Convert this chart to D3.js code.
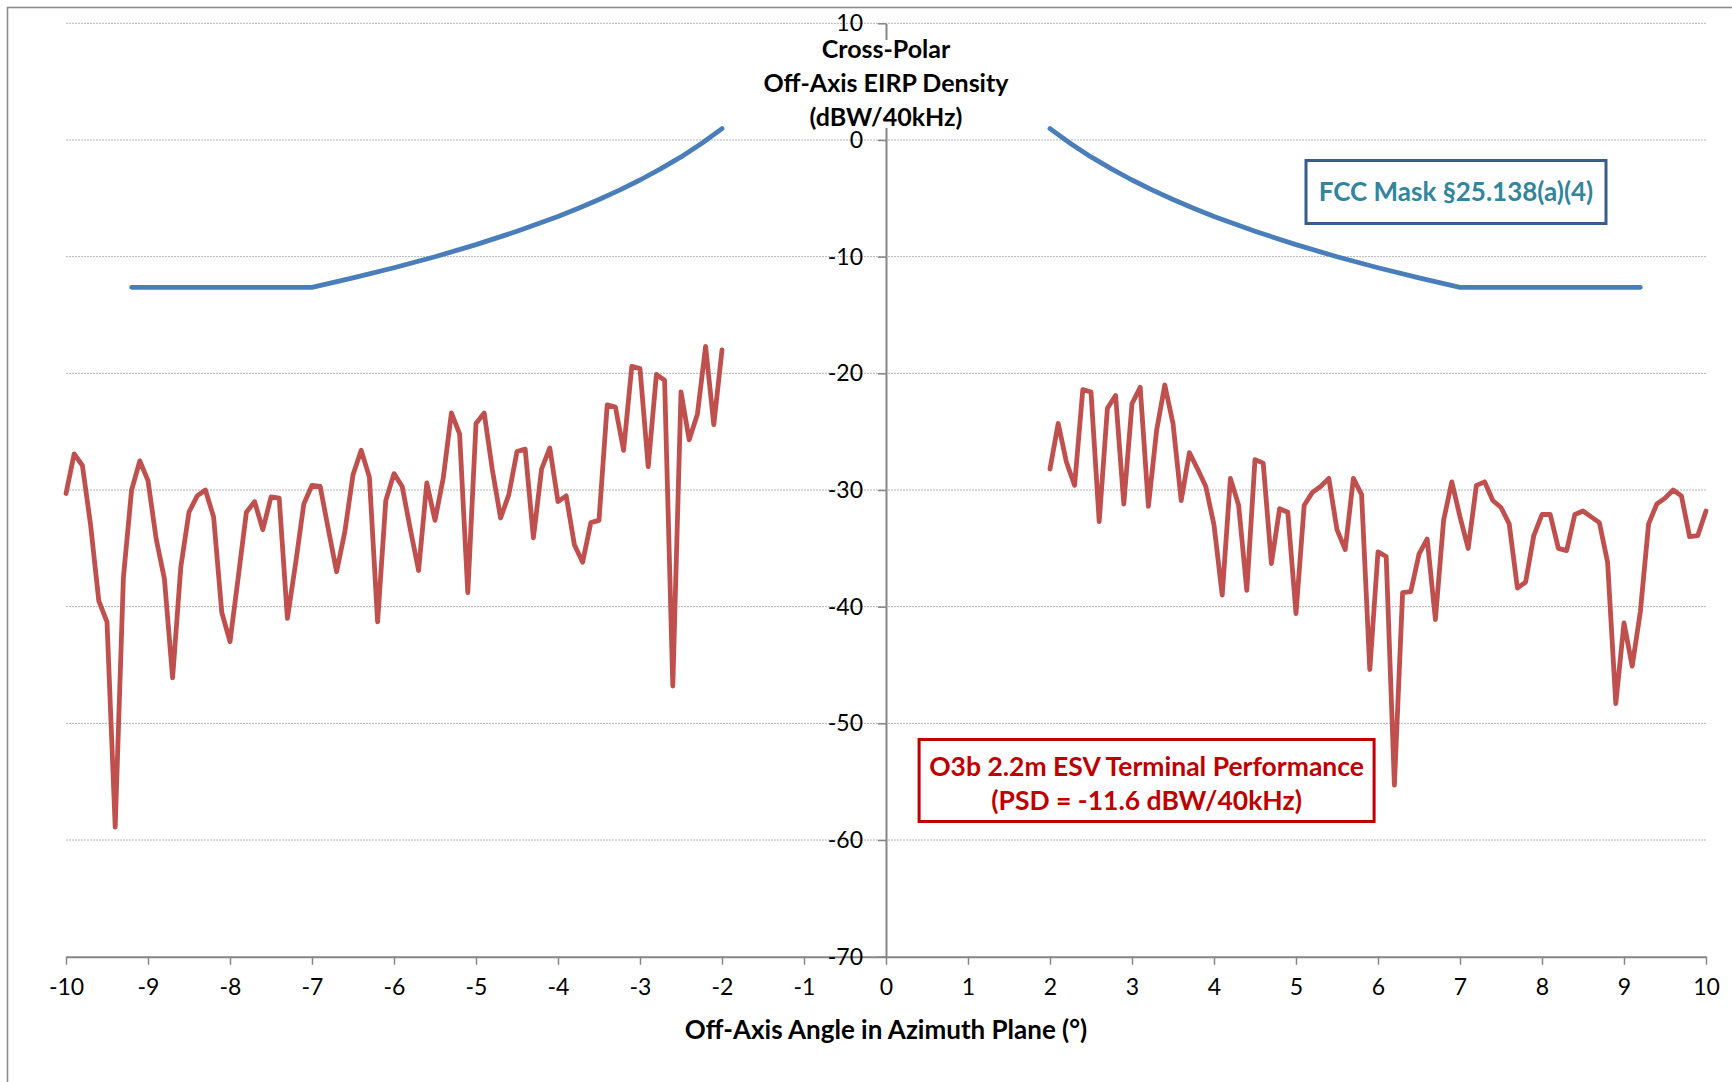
<!DOCTYPE html>
<html>
<head>
<meta charset="utf-8">
<script src="https://cdn.jsdelivr.net/npm/d3@7"></script>
<style>
  html, body { margin: 0; padding: 0; background: #fff; }
  svg { display: block; font-family: Lato, "Open Sans", sans-serif; }
</style>
</head>
<body>
<svg id="chart" width="1732" height="1082"></svg>
<script>
// Off-axis angle samples (degrees) for the measured terminal pattern
const leftAngles = [-10.0,-9.9,-9.8,-9.7,-9.6,-9.5,-9.4,-9.3,-9.2,-9.1,-9.0,-8.9,-8.8,-8.7,-8.6,-8.5,-8.4,-8.3,-8.2,-8.1,
  -8.0,-7.9,-7.8,-7.7,-7.6,-7.5,-7.4,-7.3,-7.2,-7.1,-7.0,-6.9,-6.8,-6.7,-6.6,-6.5,-6.4,-6.3,-6.2,-6.1,
  -6.0,-5.9,-5.8,-5.7,-5.6,-5.5,-5.4,-5.3,-5.2,-5.1,-5.0,-4.9,-4.8,-4.7,-4.6,-4.5,-4.4,-4.3,-4.2,-4.1,
  -4.0,-3.9,-3.8,-3.7,-3.6,-3.5,-3.4,-3.3,-3.2,-3.1,-3.0,-2.9,-2.8,-2.7,-2.6,-2.5,-2.4,-2.3,-2.2,-2.1,-2.0];
const leftEirp = [-30.3,-26.9,-27.9,-33.0,-39.5,-41.3,-58.9,-37.5,-30.0,-27.5,-29.2,-34.2,-37.6,-46.1,-36.6,-31.9,-30.5,-30.0,-32.3,-40.5,
  -43.0,-37.5,-31.9,-31.0,-33.4,-30.6,-30.7,-41.0,-36.3,-31.2,-29.6,-29.7,-33.4,-37.0,-33.6,-28.7,-26.6,-28.9,-41.3,-30.9,
  -28.6,-29.7,-33.4,-36.9,-29.4,-32.6,-29.0,-23.4,-25.2,-38.8,-24.3,-23.4,-28.3,-32.4,-30.4,-26.7,-26.5,-34.1,-28.2,-26.4,
  -31.0,-30.5,-34.7,-36.2,-32.8,-32.6,-22.7,-22.9,-26.6,-19.4,-19.6,-28.0,-20.1,-20.6,-46.8,-21.6,-25.7,-23.5,-17.7,-24.4,-18.0];

const rightAngles = [2.0,2.1,2.2,2.3,2.4,2.5,2.6,2.7,2.8,2.9,3.0,3.1,3.2,3.3,3.4,3.5,3.6,3.7,3.8,3.9,
  4.0,4.1,4.2,4.3,4.4,4.5,4.6,4.7,4.8,4.9,5.0,5.1,5.2,5.3,5.4,5.5,5.6,5.7,5.8,5.9,
  6.0,6.1,6.2,6.3,6.4,6.5,6.6,6.7,6.8,6.9,7.0,7.1,7.2,7.3,7.4,7.5,7.6,7.7,7.8,7.9,
  8.0,8.1,8.2,8.3,8.4,8.5,8.6,8.7,8.8,8.9,9.0,9.1,9.2,9.3,9.4,9.5,9.6,9.7,9.8,9.9,10.0];
const rightEirp = [-28.2,-24.3,-27.6,-29.6,-21.4,-21.6,-32.7,-23.0,-21.9,-31.2,-22.6,-21.2,-31.4,-24.9,-21.0,-24.3,-30.9,-26.8,-28.2,-29.7,
  -33.0,-39.0,-29.0,-31.3,-38.6,-27.4,-27.7,-36.3,-31.6,-31.9,-40.6,-31.3,-30.2,-29.7,-29.0,-33.4,-35.1,-29.0,-30.4,-45.4,
  -35.3,-35.7,-55.3,-38.8,-38.7,-35.5,-34.2,-41.1,-32.6,-29.3,-32.3,-35.0,-29.6,-29.3,-30.9,-31.5,-32.9,-38.4,-37.9,-33.9,
  -32.1,-32.1,-35.0,-35.2,-32.1,-31.8,-32.3,-32.8,-36.2,-48.3,-41.4,-45.1,-40.4,-32.9,-31.2,-30.7,-30.0,-30.5,-34.0,-33.9,-31.8];

// FCC §25.138(a)(4) cross-polar off-axis EIRP density envelope (symmetric in angle)
const maskAngles = [2.0, 2.25, 2.5, 2.75, 3.0, 3.25, 3.5, 3.75, 4.0, 4.5, 5.0, 5.5, 6.0, 6.5, 7.0, 9.2];
const maskEirp   = [0.97, -0.30, -1.45, -2.48, -3.43, -4.30, -5.10, -5.85, -6.55, -7.83, -8.97, -10.01, -10.95, -11.82, -12.63, -12.63];

// Axis ticks
const xTicks = [-10,-9,-8,-7,-6,-5,-4,-3,-2,-1,0,1,2,3,4,5,6,7,8,9,10];
const yTicks = [10,0,-10,-20,-30,-40,-50,-60,-70];

const svg = d3.select("#chart");
const axisColor = "#868686";
const red = "#C0504D";
const blue = "#4A7EBB";

const x = d3.scaleLinear().domain([-10, 10]).range([66, 1706]);
const y = d3.scaleLinear().domain([-70, 10]).range([956.7, 23.3]);

// outer chart frame
svg.append("rect")
  .attr("x", 7.5).attr("y", 7.5).attr("width", 1740).attr("height", 1090)
  .attr("fill", "none").attr("stroke", "#8c8c8c").attr("stroke-width", 1.6);

// horizontal gridlines
svg.append("g").selectAll("line")
  .data(yTicks.filter(d => d > -70))
  .join("line")
  .attr("x1", x(-10)).attr("x2", x(10))
  .attr("y1", d => y(d)).attr("y2", d => y(d))
  .attr("stroke", "#b4b4b4").attr("stroke-width", 1)
  .attr("stroke-dasharray", "2,1");

// x axis (at the bottom of the value range)
const gx = svg.append("g")
  .attr("transform", `translate(0,${y(-70)})`)
  .call(d3.axisBottom(x).tickValues(xTicks).tickSize(8).tickPadding(14).tickSizeOuter(0)
        .tickFormat(d => String(d).replace("\u2212", "-")));
gx.select(".domain").attr("stroke", axisColor).attr("stroke-width", 2);
gx.selectAll(".tick line").attr("stroke", axisColor).attr("stroke-width", 1.5);
gx.selectAll(".tick text").attr("font-size", 23).attr("fill", "#000")
  .attr("font-family", "Lato, 'Open Sans', sans-serif");

// y axis through zero angle
const gy = svg.append("g")
  .attr("transform", `translate(${x(0)},0)`)
  .call(d3.axisLeft(y).tickValues(yTicks).tickSize(8).tickPadding(15).tickSizeOuter(0)
        .tickFormat(d => String(d).replace("\u2212", "-")));
gy.select(".domain").attr("stroke", axisColor).attr("stroke-width", 2);
gy.selectAll(".tick line").attr("stroke", axisColor).attr("stroke-width", 1.5);
gy.selectAll(".tick text").attr("font-size", 23).attr("fill", "#000")
  .attr("font-family", "Lato, 'Open Sans', sans-serif");

// y axis title, on a white plate over the axis line (one text per line)
const yTitleLines = ["Cross-Polar", "Off-Axis EIRP Density", "(dBW/40kHz)"];
const yTitle = svg.append("g");
const plate = yTitle.append("rect").attr("fill", "#fff");
yTitle.selectAll("text").data(yTitleLines).join("text")
  .attr("x", x(0)).attr("y", (d, i) => 58 + i * 34)
  .attr("text-anchor", "middle").attr("font-weight", "bold").attr("font-size", 25).attr("fill", "#000")
  .text(d => d);
const widest = d3.max(yTitle.selectAll("text").nodes(), n => n.getComputedTextLength());
plate.attr("x", x(0) - widest / 2 - 4).attr("y", 40).attr("width", widest + 8).attr("height", 88);

// x axis title
svg.append("text")
  .attr("x", x(0)).attr("y", 1039)
  .attr("text-anchor", "middle").attr("font-weight", "bold").attr("font-size", 26).attr("fill", "#000")
  .text("Off-Axis Angle in Azimuth Plane (°)");

// FCC mask, both sides of boresight
const maskLine = d3.line().x(d => x(d[0])).y(d => y(d[1]));
const maskRight = maskAngles.map((a, i) => [a, maskEirp[i]]);
const maskLeft = maskAngles.map((a, i) => [-a, maskEirp[i]]);
[maskLeft, maskRight].forEach(pts => {
  svg.append("path").attr("d", maskLine(pts))
    .attr("fill", "none").attr("stroke", blue).attr("stroke-width", 4.8)
    .attr("stroke-linecap", "round").attr("stroke-linejoin", "round");
});

// measured terminal cross-polar EIRP density
const eirpLine = d3.line().x(d => x(d[0])).y(d => y(d[1]));
[[leftAngles, leftEirp], [rightAngles, rightEirp]].forEach(([angles, vals]) => {
  svg.append("path").attr("d", eirpLine(angles.map((a, i) => [a, vals[i]])))
    .attr("fill", "none").attr("stroke", red).attr("stroke-width", 4.8)
    .attr("stroke-linecap", "round").attr("stroke-linejoin", "round");
});

// label boxes
function labelBox(cx, top, w, h, stroke, color, lines, size, firstBaseline, lineGap) {
  const g = svg.append("g");
  g.append("rect").attr("x", cx - w / 2).attr("y", top).attr("width", w).attr("height", h)
    .attr("fill", "#fff").attr("stroke", stroke).attr("stroke-width", 3);
  g.selectAll("text").data(lines).join("text")
    .attr("text-anchor", "middle").attr("font-weight", "bold")
    .attr("font-size", size).attr("fill", color)
    .attr("x", cx).attr("y", (d, i) => firstBaseline + i * lineGap).text(d => d);
}
labelBox(1456, 160.5, 300, 63, "#385D8A", "#31859C", ["FCC Mask §25.138(a)(4)"], 26, 201, 0);
labelBox(1146.6, 739.5, 455, 82, "#C00000", "#C00000",
  ["O3b 2.2m ESV Terminal Performance", "(PSD = -11.6 dBW/40kHz)"], 26.5, 776, 34);
</script>
</body>
</html>
